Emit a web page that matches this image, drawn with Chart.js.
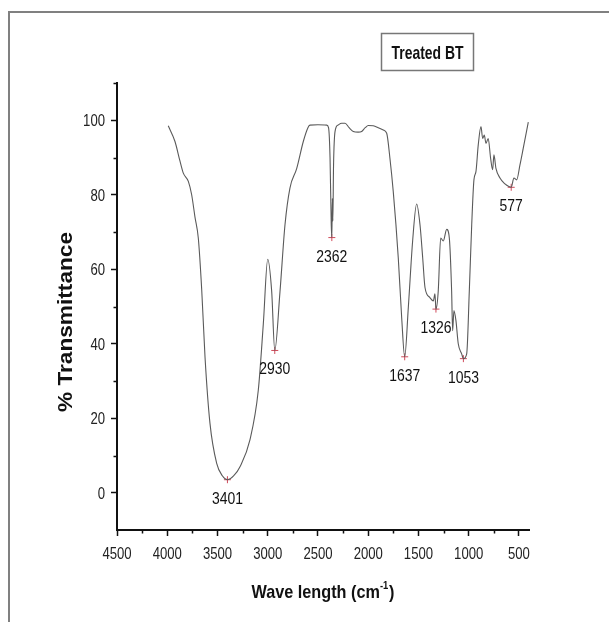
<!DOCTYPE html>
<html>
<head>
<meta charset="utf-8">
<script src="https://cdn.jsdelivr.net/npm/chart.js@4.4.1/dist/chart.umd.min.js"></script>
<style>
  html, body { margin: 0; padding: 0; background: #fff; }
  #wrap { position: relative; width: 609px; height: 622px; overflow: hidden; }
  #frame { position: absolute; left: 8px; top: 11px; width: 700px; height: 700px;
           border-left: 2px solid #808080; border-top: 2px solid #808080; pointer-events: none; }
  canvas { position: absolute; left: 0; top: 0; }
</style>
</head>
<body>
<div id="wrap">
  <canvas id="c" width="609" height="622"></canvas>
  <div id="frame"></div>
</div>
<script>
// ---- data ----
const wavenumbers = [3990,3923,3873,3840,3790,3757,3724,3691,3657,3624,3575,3508,3450,3401,3340,3276,3177,3094,3044,3000,2961,2930,2878,2828,2779,2712,2646,2600,2580,2500,2413,2395,2380,2368,2362,2357,2352,2345,2330,2300,2264,2231,2190,2149,2100,2065,2030,1999,1950,1900,1850,1816,1784,1751,1701,1667,1637,1601,1558,1518,1485,1458,1435,1386,1352,1336,1326,1303,1279,1253,1219,1193,1170,1160,1147,1127,1104,1070,1053,1020,994,970,948,928,905,878,861,845,828,806,782,762,749,729,689,639,600,577,550,523,490,457,407];
const transmittance = [98.5,94.3,89,85.8,83.6,80,74,68.4,54.5,36.4,18.7,7.9,4.5,3.5,4.5,7,14.2,27.5,45.3,62.7,54.2,38.2,54,72,81.8,87,94.3,98,98.7,98.8,98.7,98,90,72,68.5,79,73,88,97,98.7,99.2,99.2,98,97,96.8,97,98,98.6,98.5,98,97.4,96.5,89.8,80.9,63.1,47,36.5,49.7,67.6,77.5,72,63.1,55.1,52.4,51.5,53.4,49.3,54.2,68.4,67.6,70.7,68.4,54.2,43.5,48.9,46.2,40,37.3,36,37.3,54.2,72,84,86.2,93.4,98.3,95.1,96,93.8,95.1,89.8,86.7,90.7,87.1,84.5,82.9,82.2,82,84.5,84,88,92.5,99.5];
const peakWaves = [3401, 2930, 2362, 1637, 1326, 1053, 577];
const peakValues = [3.5, 38.2, 68.5, 36.5, 49.3, 36, 82];
const xTickValues = [4500, 4000, 3500, 3000, 2500, 2000, 1500, 1000, 500];
const xMinorTicks = [4250, 3750, 3250, 2750, 2250, 1750, 1250, 750];
const yTickValues = [0, 20, 40, 60, 80, 100];
const yMinorTicks = [10, 30, 50, 70, 90, 110];
const seriesName = 'Treated BT';
const xTitle = 'Wave length (cm';
const xTitleSup = '-1';
const yTitle = '% Transmittance';

const SANS = '"Liberation Sans", Arial, sans-serif';
const NARROW_X = 0.82; // horizontal squeeze to imitate a narrow face

function squeezed(ctx, text, x, y, font, sx, align, baseline) {
  ctx.save();
  ctx.font = font;
  ctx.textAlign = align;
  ctx.textBaseline = baseline;
  ctx.translate(x, y);
  ctx.scale(sx, 1);
  ctx.fillText(text, 0, 0);
  ctx.restore();
}

const decor = {
  id: 'decor',
  afterDraw(chart) {
    const ctx = chart.ctx;
    const xs = chart.scales.x, ys = chart.scales.y;
    const ca = chart.chartArea;
    ctx.save();
    // minor ticks
    ctx.strokeStyle = '#111';
    ctx.lineWidth = 1.5;
    ctx.beginPath();
    xMinorTicks.forEach(v => {
      const px = Math.round(xs.getPixelForValue(v)) + 0.5;
      ctx.moveTo(px, ca.bottom); ctx.lineTo(px, ca.bottom + 3.5);
    });
    yMinorTicks.forEach(v => {
      const py = Math.round(ys.getPixelForValue(v)) + 0.5;
      ctx.moveTo(ca.left, py); ctx.lineTo(ca.left - 3.5, py);
    });
    ctx.stroke();

    // tick labels (narrow look)
    ctx.fillStyle = '#222';
    const tickFont = '16px ' + SANS;
    xTickValues.forEach(v => {
      squeezed(ctx, String(v), xs.getPixelForValue(v), 559, tickFont, NARROW_X, 'center', 'alphabetic');
    });
    yTickValues.forEach(v => {
      squeezed(ctx, String(v), 105, ys.getPixelForValue(v) + 6, tickFont, NARROW_X, 'right', 'alphabetic');
    });

    // peak labels
    ctx.fillStyle = '#111';
    peakWaves.forEach((w, i) => {
      const px = xs.getPixelForValue(w);
      const py = ys.getPixelForValue(peakValues[i]) + 24;
      squeezed(ctx, String(w), px, py, '17px ' + SANS, NARROW_X, 'center', 'alphabetic');
    });

    // legend box
    ctx.strokeStyle = '#777';
    ctx.lineWidth = 1.5;
    ctx.strokeRect(381.5, 33.5, 92, 37);
    ctx.font = 'bold 18.5px ' + SANS;
    const lw = ctx.measureText(seriesName).width;
    squeezed(ctx, seriesName, 427.5, 58.5, 'bold 18.5px ' + SANS, 72 / lw, 'center', 'alphabetic');

    // y title (rotated)
    ctx.save();
    ctx.translate(66, 322);
    ctx.rotate(-Math.PI / 2);
    ctx.font = 'bold 20px ' + SANS;
    const yw = ctx.measureText(yTitle).width;
    ctx.scale(180 / yw, 1);
    ctx.textAlign = 'center';
    ctx.textBaseline = 'middle';
    ctx.fillStyle = '#111';
    ctx.fillText(yTitle, 0, 0);
    ctx.restore();

    // x title with superscript
    ctx.font = 'bold 19px ' + SANS;
    const mainW = ctx.measureText(xTitle).width;
    const closeW = ctx.measureText(')').width;
    ctx.font = 'bold 11px ' + SANS;
    const supW = ctx.measureText(xTitleSup).width;
    const total = mainW + supW + closeW + 1;
    const sx = 143 / total;
    ctx.save();
    ctx.translate((ca.left + ca.right) / 2, 598);
    ctx.scale(sx, 1);
    ctx.textAlign = 'left';
    ctx.textBaseline = 'alphabetic';
    ctx.fillStyle = '#111';
    let x0 = -total / 2;
    ctx.font = 'bold 19px ' + SANS;
    ctx.fillText(xTitle, x0, 0);
    ctx.font = 'bold 11px ' + SANS;
    ctx.fillText(xTitleSup, x0 + mainW, -9);
    ctx.font = 'bold 19px ' + SANS;
    ctx.fillText(')', x0 + mainW + supW + 1, 0);
    ctx.restore();
    ctx.restore();
  }
};

new Chart(document.getElementById('c'), {
  type: 'line',
  data: {
    datasets: [
      {
        label: seriesName,
        data: wavenumbers.map((w, i) => ({ x: w, y: transmittance[i] })),
        borderColor: '#5a5a5a',
        borderWidth: 1.1,
        pointRadius: 0,
        cubicInterpolationMode: 'monotone',
        fill: false
      },
      {
        label: 'peaks',
        data: peakWaves.map((w, i) => ({ x: w, y: peakValues[i] })),
        showLine: false,
        pointStyle: 'cross',
        pointRadius: 3.5,
        borderColor: '#d04a5a',
        borderWidth: 1,
        backgroundColor: '#d04a5a'
      }
    ]
  },
  options: {
    responsive: false,
    animation: false,
    devicePixelRatio: 1,
    layout: { padding: { left: 0, top: 83, right: 80, bottom: 0 } },
    plugins: { legend: { display: false }, tooltip: { enabled: false } },
    scales: {
      x: {
        type: 'linear',
        reverse: true,
        min: 400,
        max: 4500,
        afterBuildTicks: s => { s.ticks = xTickValues.map(v => ({ value: v })); },
        afterFit: s => { s.height = 92; },
        border: { color: '#111', width: 2 },
        grid: { drawOnChartArea: false, drawTicks: true, tickLength: 6, tickColor: '#111', tickWidth: 1.5 },
        ticks: { display: false }
      },
      y: {
        type: 'linear',
        min: -10,
        max: 110,
        afterBuildTicks: s => { s.ticks = yTickValues.map(v => ({ value: v })); },
        afterFit: s => { s.width = 117; },
        border: { color: '#111', width: 2 },
        grid: { drawOnChartArea: false, drawTicks: true, tickLength: 6, tickColor: '#111', tickWidth: 1.5 },
        ticks: { display: false }
      }
    }
  },
  plugins: [decor]
});
</script>
</body>
</html>
